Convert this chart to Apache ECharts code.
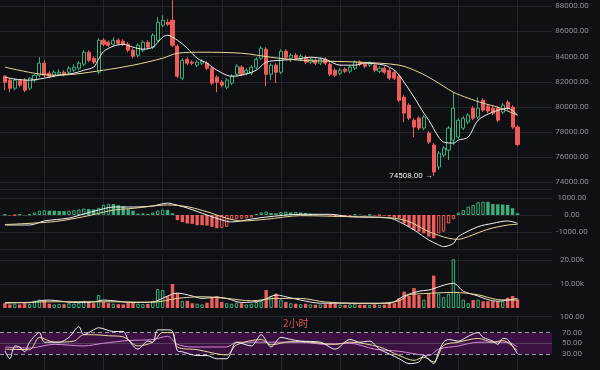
<!DOCTYPE html>
<html><head><meta charset="utf-8">
<script src="https://cdn.jsdelivr.net/npm/echarts@6/dist/echarts.min.js"></script>
<style>html,body{margin:0;padding:0;background:#0f1014;}#c{width:600px;height:370px;}</style>
</head><body><div id="c"></div>
<script>
// ---- data ----
// candles: [open, close, low, high]
const candles = [
[82440,81970,81330,82520],[82130,81490,81170,82290],[81490,82130,81330,82290],[82130,81730,81570,82210],
[82130,81330,81170,82290],[81490,82290,81330,82360],[82130,82520,81970,82600],[82520,83480,82360,83950],
[83480,82520,82370,83710],[82680,82440,82290,82840],[82520,82760,82360,82920],[82600,82760,82440,83000],
[82760,82600,82440,82920],[82760,83080,82600,83240],[82920,83160,82760,83400],[83080,83480,82920,83630],
[83400,84350,83240,84510],[84350,83710,83550,84510],[83870,83560,83400,84030],[82760,85300,82600,85460],
[85300,84980,84830,85460],[85140,84900,84750,85300],[84980,85300,84830,85540],[85300,85060,84900,85460],
[85220,84980,84830,85380],[84980,84510,84350,85140],[84510,84030,83870,84670],[84110,84900,83950,85060],
[84510,85140,84350,85300],[85140,84750,84590,85300],[84750,85700,84590,85860],[85300,86730,85140,87130],
[86490,86890,86330,87290],[86730,86570,86410,86970],[86890,84900,84750,88480],[84830,82440,82290,84980],
[82290,83710,82130,83870],[83790,83480,83320,83950],[83560,83480,83320,83710],[83320,83560,83160,83710],
[83480,83630,83320,83790],[83480,83080,82920,83630],[83080,81890,81730,83240],[82370,81970,81170,82520],
[81970,81730,81570,82130],[81570,82130,81410,82290],[81890,82440,81730,82600],[82600,83240,82440,83400],
[83160,82600,82440,83320],[82680,82920,82520,83080],[82680,83160,82520,83320],[83160,83790,83000,83950],
[83870,84670,83710,84830],[84590,82600,81650,84750],[82600,83320,82130,83480],[83320,82760,81890,83480],
[82760,84430,82600,84590],[84430,83950,83790,84590],[83870,84110,83550,84270],[84110,83870,83710,84270],
[83790,84030,83630,84190],[83950,83560,83400,84110],[83560,83790,83400,83950],[83710,83480,83320,83870],
[83480,83790,83320,83950],[83790,83480,83320,83950],[83400,82600,82440,83560],[82920,82520,82370,83080],
[82680,82920,82520,83080],[83000,82840,82680,83160],[82840,83160,82680,83320],[83080,83560,82920,83710],
[83560,83400,83240,83710],[83400,83240,83080,83560],[83320,83480,83160,83630],[83320,82920,82760,83480],
[82840,83080,82680,83240],[83080,82760,82600,83240],[82920,82290,82130,83080],[82760,82290,82130,82920],
[82440,80540,80380,82600],[80780,79510,78790,80940],[80140,79110,78950,80300],[78950,78400,77600,79110],
[79110,78320,78160,79270],[78320,79190,78160,79350],[77920,77210,77050,78080],[76970,74830,74508,77130],
[75220,76330,74980,76490],[76170,76730,76010,76890],[76570,78320,75780,78480],[77360,79900,76970,81170],
[77600,78950,77450,79110],[78320,79110,78160,79270],[78790,79350,78630,79510],[79900,79110,78950,80060],
[79190,79900,79030,80780],[80540,79750,79590,80700],[80060,79670,79510,80220],[79900,79510,79350,80060],
[79900,78950,78790,80060],[79590,80140,79430,80300],[80380,79900,79750,80540],[79980,78400,78240,80140],
[78400,77018,76900,78550]
];
const maShort = [[0,82370],[2,82210],[5,82130],[8,82290],[11,82520],[14,82680],[16,82920],[18,83160],[19,83800],[20,84400],[22,84830],[24,84980],[26,84750],[28,84590],[30,84750],[32,85540],[33,85700],[35,85300],[37,84670],[39,83870],[41,83480],[43,82920],[46,82440],[48,82520],[51,82920],[53,83560],[56,83710],[59,83790],[62,83950],[65,83790],[68,83320],[71,83320],[73,83480],[77,83320],[79,82920],[80,82520],[83,80780],[85,79510],[86,78950],[88,77600],[89,77210],[91,77130],[92,77360],[94,77600],[96,78950],[99,79590],[102,79900],[104,79350]];
const maLong = [[0,83160],[6,82680],[10,82520],[14,82600],[20,82920],[26,83320],[32,83870],[35,84270],[40,84350],[48,84270],[54,83950],[60,83710],[66,83630],[72,83560],[80,83320],[84,82760],[87,82130],[91,81170],[94,80700],[97,80300],[100,79980],[104,79350]];
const volumes = [2000,1500,1800,1500,2000,1700,3000,3500,3300,1800,1500,1700,1600,2000,1800,2200,3000,2500,2000,5400,
2500,2000,1800,1600,1500,2200,2500,1800,1600,1700,3000,7900,7500,5000,10000,6300,3000,3000,2000,1800,
1500,2200,4600,5000,2500,2000,1800,2200,2000,1500,1800,2500,2800,7500,5000,6000,3600,2500,2000,1800,
1600,1800,1500,1400,1500,1600,2200,1800,1400,1300,1500,1800,1400,1300,1200,1500,1300,1400,2200,2000,
4100,6800,5000,8300,5400,3500,6000,13500,6000,4500,6000,20300,6000,3500,2000,3300,3500,2800,2800,2800,
2800,2800,4300,5000,3600];
const volMaShort = [[0,2300],[5,2200],[7,3000],[9,3300],[14,2300],[18,2500],[20,3300],[26,2300],[30,2500],[33,5000],[35,6200],[38,5000],[40,4000],[43,4500],[45,4000],[48,2300],[52,3000],[55,5400],[58,4200],[60,3300],[64,2000],[78,2000],[81,5000],[84,7000],[86,7500],[91,10300],[93,7000],[96,5000],[98,3500],[100,2800],[102,3300],[104,4000]];
const volMaLong = [[0,2000],[10,2600],[20,2600],[30,2400],[35,4000],[40,4700],[45,4000],[50,3000],[55,4000],[60,4000],[65,2500],[75,1800],[80,3000],[82,5500],[85,6000],[91,6500],[96,5500],[100,3500],[104,3300]];
const macdHist = [20,-30,-20,30,-20,30,150,250,280,250,250,230,230,250,280,330,380,350,330,420,
600,650,640,580,520,350,250,80,100,60,150,260,320,300,100,-300,-420,-500,-520,-600,
-600,-620,-700,-780,-760,-700,-300,-250,-230,-200,-150,60,150,200,120,100,180,200,150,180,
150,120,80,60,30,20,-40,-120,-110,-100,-60,30,20,-20,10,-30,-20,-40,-80,-150,
-200,-500,-700,-880,-980,-1080,-1270,-1370,-1080,-980,-500,-250,140,300,490,590,750,780,780,650,
630,620,590,400,100];
const macdDif = [[0,-590],[5,-590],[8,-350],[13,-180],[16,60],[19,290],[22,470],[26,470],[30,530],[33,700],[34,650],[37,410],[41,0],[44,-290],[46,-410],[50,-240],[53,-120],[60,40],[66,40],[70,-100],[78,-180],[80,-390],[83,-880],[86,-1470],[88,-1760],[89,-1860],[91,-1670],[92,-1270],[96,-690],[99,-490],[102,-350],[104,-490]];
const macdDea = [[0,-560],[10,-390],[16,-100],[22,290],[26,390],[33,590],[37,490],[41,190],[45,-190],[48,-350],[53,-250],[60,-40],[70,-100],[78,-160],[82,-390],[86,-980],[90,-1370],[92,-1430],[94,-1270],[98,-840],[102,-590],[104,-550]];
const rsiA = [[0,36],[1,21],[2,45],[3,43],[4,34],[5,52],[7,70],[8,52],[11,52],[13,61],[15,81],[16,66],[18,75],[19,79],[22,72],[24,72],[25,57],[27,39],[29,54],[30,52],[31,75],[33,75],[34,72],[35,36],[36,34],[39,27],[41,27],[43,21],[45,21],[47,52],[50,45],[52,66],[54,43],[56,61],[58,57],[60,54],[64,52],[67,39],[70,57],[72,52],[74,54],[76,39],[78,30],[80,21],[82,12],[84,15],[85,27],[87,12],[88,34],[89,52],[90,57],[92,54],[94,63],[96,70],[97,61],[99,54],[100,48],[101,59],[102,57],[104,30]];
const rsiB = [[0,39],[5,38],[7,61],[10,52],[14,54],[16,66],[18,66],[21,64],[24,62],[27,45],[30,52],[32,70],[34,70],[35,43],[39,38],[45,28],[47,47],[52,57],[54,47],[58,53],[60,53],[67,48],[70,52],[76,43],[80,27],[83,18],[85,24],[87,15],[89,46],[92,52],[96,59],[99,52],[101,55],[104,36]];
const rsiC = [[0,43],[5,41],[10,48],[16,45],[20,50],[25,55],[30,57],[33,63],[35,48],[38,43],[45,43],[47,52],[60,52],[65,48],[70,50],[75,39],[80,35],[86,27],[88,39],[92,45],[96,52],[102,52],[104,43]];
const lowPoint = {index: 87, value: 74508};
const lastPrice = 77018;
const lastVolume = 3600;
const periodLabel = '2小时';

// ---- build ----
const BG = '#0f1014', GRID = '#24262b', LBL = '#8d9096';
const RED = '#ef5d5a', GREEN = '#3aae7b';
const FONT = 'Roboto, sans-serif';
const OFF = 1, NCAT = 113;
const cats = Array.from({length: NCAT}, (_, k) => String(k));
function pad(arr, empty) { const out = []; for (let k = 0; k < NCAT; k++) out.push(empty); arr.forEach((v, i) => out[i + OFF] = v); return out; }
const pairs = arr => arr.map(([i, v]) => [i + OFF, v]);
const gridIdx = idx => idx >= 9 && (idx - 9) % 12 === 0;

const grids = [
  {left: -1.5, right: 48, top: -0.3, height: 207.9},
  {left: -1.5, right: 48, top: 189.5, height: 59.5},
  {left: -1.5, right: 48, top: 255.2, height: 52.8},
  {left: -1.5, right: 48, top: 316.5, height: 55}
];
const xAxes = grids.map((g, k) => ({
  type: 'category', gridIndex: k, data: cats, boundaryGap: false,
  axisLine: {show: false}, axisTick: {show: false}, axisLabel: {show: false},
  splitLine: {show: true, interval: (i) => gridIdx(i), lineStyle: {color: GRID, width: 1}}
}));
const lab = (fmt, extra) => Object.assign({color: LBL, fontSize: 8, fontFamily: FONT, margin: 20, align: 'center', formatter: fmt}, extra || {});
const yAxes = [
  {type: 'value', gridIndex: 0, position: 'right', min: 72000, max: 88500, interval: 2000,
   axisLine: {show: false}, axisTick: {show: false},
   splitLine: {show: true, showMinLine: false, showMaxLine: false, lineStyle: {color: GRID}},
   axisLabel: lab(v => v.toFixed(2), {showMinLabel: false, showMaxLabel: false})},
  {type: 'value', gridIndex: 1, position: 'right', min: -2000, max: 1500, interval: 1000,
   axisLine: {show: false}, axisTick: {show: false},
   splitLine: {show: true, showMaxLine: true, lineStyle: {color: GRID}},
   axisLabel: lab(v => v.toFixed(2), {showMinLabel: false, showMaxLabel: false})},
  {type: 'value', gridIndex: 2, position: 'right', min: 0, max: 22000, interval: 10000,
   axisLine: {show: false}, axisTick: {show: false},
   splitLine: {show: true, showMinLine: false, showMaxLine: false, lineStyle: {color: GRID}},
   axisLabel: lab(v => (v / 1000).toFixed(2) + 'k', {showMinLabel: false, showMaxLabel: false})},
  {type: 'value', gridIndex: 3, position: 'right', min: 0, max: 100, interval: 10,
   axisLine: {show: false}, axisTick: {show: false},
   splitLine: {show: false},
   axisLabel: lab(v => ([100, 70, 50, 30].indexOf(v) >= 0 ? v.toFixed(2) : ''), {showMinLabel: false})}
];

const candleData = pad(candles, ['-', '-', '-', '-']);
const macdData = pad(macdHist.map((v, i) => {
  const prev = i > 0 ? macdHist[i - 1] : 0;
  const col = v >= 0 ? GREEN : RED;
  const hollow = v > prev;
  return {value: v, itemStyle: hollow ? {color: BG, borderColor: col, borderWidth: 1} : {color: col, borderColor: col, borderWidth: 0}};
}), '-');
const volData = pad(volumes.map((v, i) => {
  const up = candles[i][1] >= candles[i][0];
  return {value: v, itemStyle: up ? {color: BG, borderColor: GREEN, borderWidth: 1} : {color: RED}};
}), '-');

const line = (data, color, xi, extra) => Object.assign({
  type: 'line', xAxisIndex: xi, yAxisIndex: xi, data: pairs(data), symbol: 'none', smooth: 0.3,
  lineStyle: {color: color, width: 1}, silent: true, z: 5
}, extra || {});

const option = {
  backgroundColor: BG,
  animation: false,
  title: {text: periodLabel, left: 283, top: 318, padding: 0, textStyle: {color: '#d9504c', fontSize: 10, fontWeight: 'normal', fontFamily: 'Noto Sans CJK SC, sans-serif'}},
  grid: grids,
  xAxis: xAxes,
  yAxis: yAxes,
  series: [
    {type: 'candlestick', xAxisIndex: 0, yAxisIndex: 0, data: candleData, barWidth: 3.6,
     itemStyle: {color: BG, color0: RED, borderColor: GREEN, borderColor0: RED, borderWidth: 1},
     markPoint: {symbol: 'circle', symbolSize: 0, silent: true,
       data: [{coord: [lowPoint.index + OFF, lowPoint.value],
         label: {show: true, position: 'left', distance: 1, formatter: lowPoint.value.toFixed(2) + ' →', color: '#e6e6e6', fontSize: 8, fontFamily: FONT}}]},
     markLine: {symbol: 'none', silent: true, lineStyle: {opacity: 0},
       data: [{yAxis: lastPrice, label: {show: true, position: 'end', distance: 1, formatter: lastPrice.toFixed(2), color: '#fff', backgroundColor: '#e5504c', padding: [2, 3, 1, 3], width: 33, align: 'center', fontSize: 8, fontFamily: FONT}}]}
    },
    line(maShort, '#eeeeee', 0),
    line(maLong, '#e8d89a', 0),
    {type: 'bar', xAxisIndex: 1, yAxisIndex: 1, data: macdData, barWidth: 3.4},
    line(macdDif, '#f2f2f2', 1),
    line(macdDea, '#e8d89a', 1),
    {type: 'bar', xAxisIndex: 2, yAxisIndex: 2, data: volData, barWidth: 3.4,
     markLine: {symbol: 'none', silent: true, lineStyle: {opacity: 0},
       data: [{yAxis: lastVolume, label: {show: true, position: 'end', distance: 1, formatter: (lastVolume / 1000).toFixed(1) + 'k', color: '#fff', backgroundColor: '#e39417', padding: [2, 3, 1, 3], width: 33, align: 'center', fontSize: 8, fontFamily: FONT}}]}},
    line(volMaShort, '#eeeeee', 2),
    line(volMaLong, '#e8d89a', 2),
    line(rsiC, '#d58ad6', 3, {
      markArea: {silent: true, itemStyle: {color: '#3a1140'}, data: [[{yAxis: 30}, {yAxis: 70}]]},
      markLine: {symbol: 'none', silent: true, label: {show: false},
        data: [
          {yAxis: 70, lineStyle: {color: '#9a9aa0', type: [4, 3], width: 1}},
          {yAxis: 30, lineStyle: {color: '#9a9aa0', type: [4, 3], width: 1}},
          {yAxis: 50, lineStyle: {color: '#55405a', type: 'solid', width: 1}},
          {yAxis: 100, lineStyle: {color: GRID, type: 'solid', width: 1}}
        ]}
    }),
    line(rsiB, '#e8d89a', 3),
    line(rsiA, '#f2f2f2', 3)
  ]
};
const chart = echarts.init(document.getElementById('c'), null, {renderer: 'canvas'});
chart.setOption(option);
</script>
</body></html>
